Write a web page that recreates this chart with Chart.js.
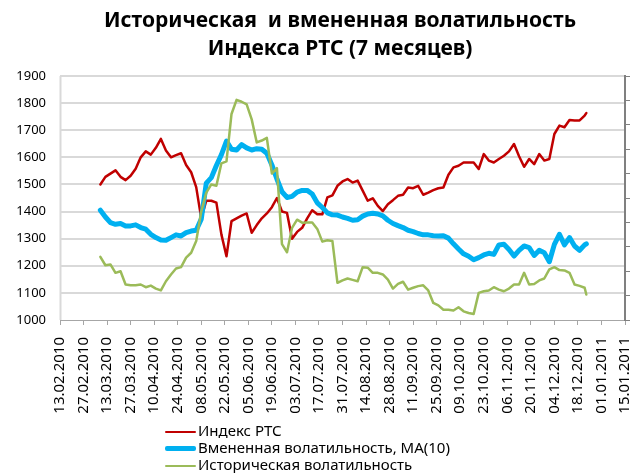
<!DOCTYPE html>
<html>
<head>
<meta charset="utf-8">
<script src="https://cdn.jsdelivr.net/npm/chart.js@4/dist/chart.umd.min.js"></script>
<style>
  body { margin: 0; background: #fff; }
  #wrap { position: relative; width: 633px; height: 473px; overflow: hidden; }
  #title { position: absolute; left: 0; top: 5px; width: 680px; text-align: center; font: bold 21px "Noto Sans", sans-serif; line-height: 28px; color: #000; white-space: pre; }
  #legend { position: absolute; left: 165px; top: 422px; font: 15px "Noto Sans", sans-serif; color: #000; }
  #legend div { height: 17px; line-height: 17px; white-space: nowrap; }
  #legend span.sw { display: inline-block; width: 31px; vertical-align: middle; margin-right: 2px; border-radius: 2px; }
</style>
</head>
<body>
<div id="wrap">
  <canvas id="chart" width="633" height="473"></canvas>
  <div id="title"></div>
  <div id="legend"></div>
</div>
<script>
// дни от 13.02.2010 (начало оси)
const days = [24, 27, 30, 33, 36, 39, 42, 45, 48, 51, 54, 57, 60, 63, 66, 69, 72, 75, 78, 81,
  84, 87, 90, 93, 96, 99, 102, 105, 108, 111, 114, 117, 120, 123, 126, 129, 132, 135, 138, 141,
  144, 147, 150, 153, 156, 159, 162, 165, 168, 171, 174, 177, 180, 183, 186, 189, 192, 195, 198, 201,
  204, 207, 210, 213, 216, 219, 222, 225, 228, 231, 234, 237, 240, 243, 246, 249, 252, 255, 258, 261,
  264, 267, 270, 273, 276, 279, 282, 285, 288, 291, 294, 297, 300, 303, 306, 309, 312, 313];

// Индекс РТС
const rts = [1500, 1528, 1540, 1552, 1528, 1516, 1532, 1558, 1600, 1622, 1610, 1635, 1668, 1625, 1600, 1608, 1615, 1572, 1545, 1490,
  1375, 1440, 1440, 1433, 1315, 1235, 1365, 1375, 1385, 1393, 1322, 1350, 1375, 1393, 1416, 1450, 1400, 1395, 1300, 1325,
  1340, 1375, 1405, 1390, 1390, 1452, 1460, 1495, 1511, 1520, 1507, 1514, 1477, 1440, 1449, 1421, 1402, 1427, 1442, 1458,
  1462, 1489, 1486, 1495, 1462, 1470, 1479, 1486, 1489, 1536, 1563, 1569, 1581, 1581, 1581, 1557, 1612, 1588, 1581, 1594,
  1606, 1622, 1649, 1604, 1565, 1594, 1575, 1612, 1588, 1594, 1686, 1717, 1711, 1738, 1736, 1736, 1754, 1763];

// Вмененная волатильность, MA(10)
const impliedVol = [1405, 1380, 1359, 1353, 1356, 1347, 1347, 1351, 1341, 1335, 1316, 1304, 1295, 1294, 1304, 1314, 1310, 1322, 1328, 1331,
  1372, 1505, 1525, 1570, 1610, 1660, 1630, 1627, 1647, 1635, 1627, 1632, 1630, 1615, 1572, 1520, 1473, 1452, 1456, 1472,
  1478, 1478, 1465, 1432, 1415, 1395, 1388, 1387, 1380, 1375, 1368, 1370, 1383, 1391, 1394, 1391, 1384, 1368, 1356, 1348,
  1341, 1331, 1326, 1319, 1314, 1314, 1311, 1310, 1311, 1302, 1281, 1262, 1244, 1235, 1222, 1230, 1240, 1246, 1242, 1277,
  1279, 1260, 1236, 1257, 1273, 1267, 1238, 1257, 1248, 1215, 1279, 1316, 1277, 1304, 1273, 1257, 1277, 1281];

// Историческая волатильность
const histVol = [1233, 1202, 1205, 1174, 1180, 1131, 1128, 1128, 1131, 1121, 1127, 1116, 1109, 1143, 1168, 1190, 1195, 1230, 1248, 1291,
  1400, 1470, 1500, 1495, 1578, 1585, 1760, 1812, 1805, 1795, 1740, 1655, 1662, 1672, 1540, 1560, 1280, 1250, 1340, 1370,
  1359, 1360, 1360, 1336, 1289, 1294, 1291, 1137, 1146, 1153, 1148, 1143, 1195, 1193, 1174, 1174, 1168, 1149, 1116, 1133,
  1141, 1112, 1119, 1125, 1128, 1109, 1063, 1054, 1038, 1038, 1035, 1047, 1032, 1026, 1022, 1100, 1106, 1109, 1121, 1112,
  1106, 1116, 1131, 1131, 1174, 1131, 1133, 1146, 1153, 1187, 1195, 1184, 1183, 1174, 1131, 1126, 1119, 1094];

const seriesNames = ['Индекс РТС', 'Вмененная волатильность, MA(10)', 'Историческая волатильность'];
const titleLines = ['Историческая  и вмененная волатильность', 'Индекса РТС (7 месяцев)'];

const startDate = Date.UTC(2010, 1, 13);
function dayLabel(v) {
    const d = new Date(startDate + v * 86400000);
    const p = (n) => String(n).padStart(2, '0');
    return p(d.getUTCDate()) + '.' + p(d.getUTCMonth() + 1) + '.' + d.getUTCFullYear();
}

function pts(values) {
    return values.map((v, i) => ({x: days[i], y: v}));
}

const colors = ['#C00000', '#00B0F0', '#9BBB59'];
const widths = [2.5, 5, 2.5];
const series = [rts, impliedVol, histVol];

const datasets = series.map((s, i) => ({
    label: seriesNames[i],
    data: pts(s),
    borderColor: colors[i],
    backgroundColor: colors[i],
    borderWidth: widths[i],
    pointRadius: 0,
    tension: 0,
    fill: false,
    borderJoinStyle: 'round',
    borderCapStyle: 'round',
    order: 3 - i  // как в Excel: последняя серия сверху
}));

const font = '"Noto Sans", sans-serif';

// сетка по делениям оси y рисуется в самом конце, но "под" уже нарисованным
const hGrid = {
    id: 'hGrid',
    afterDraw(chart) {
        const {ctx, chartArea, scales: {y}} = chart;
        ctx.save();
        ctx.globalCompositeOperation = 'destination-over';
        ctx.strokeStyle = '#d9d9d9';
        ctx.lineWidth = 2;
        ctx.beginPath();
        y.ticks.forEach((t) => {
            if (t.value === y.min) return;
            const py = Math.round(y.getPixelForValue(t.value));
            ctx.moveTo(chartArea.left, py);
            ctx.lineTo(chartArea.right, py);
        });
        // левая ось
        ctx.moveTo(Math.round(chartArea.left) + 0.5, chartArea.top);
        ctx.lineTo(Math.round(chartArea.left) + 0.5, chartArea.bottom);
        ctx.stroke();
        ctx.restore();
    }
};

new Chart(document.getElementById('chart'), {
    type: 'line',
    data: {datasets: datasets},
    plugins: [hGrid],
    options: {
        responsive: false,
        animation: false,
        layout: {padding: {left: 0, right: 0, top: 76, bottom: 53}},
        plugins: {
            legend: {display: false},
            tooltip: {enabled: false},
            title: {display: false}
        },
        scales: {
            x: {
                type: 'linear',
                min: 0,
                max: 336,
                afterFit: (s) => { s.height = 100; s.paddingLeft = 0; s.paddingRight = 0; },
                ticks: {
                    stepSize: 14,
                    autoSkip: false,
                    maxRotation: 90,
                    minRotation: 90,
                    padding: 12,
                    color: '#000',
                    font: {family: font, size: 15},
                    callback: (v) => dayLabel(v)
                },
                grid: {drawOnChartArea: false, color: '#a6a6a6', tickLength: 5},
                border: {color: '#a6a6a6', width: 1}
            },
            y: {
                type: 'linear',
                position: 'left',
                min: 1000,
                max: 1900,
                afterFit: (s) => { s.width = 60; },
                ticks: {stepSize: 100, padding: 14, color: '#000', font: {family: font, size: 13},
                    callback: (v) => String(v)},
                grid: {drawOnChartArea: false, drawTicks: false},
                border: {display: false}
            },
            y2: {
                type: 'linear',
                position: 'right',
                min: 0,
                max: 10,
                afterFit: (s) => { s.width = 8; },
                ticks: {stepSize: 1, display: false},
                grid: {drawOnChartArea: false, color: '#808080', tickLength: 5},
                border: {color: '#808080', width: 2}
            }
        }
    }
});

// заголовок и легенда столбиком, как в оригинале
document.getElementById('title').textContent = titleLines.join('\n');

const legend = document.getElementById('legend');
seriesNames.forEach((name, i) => {
    const row = document.createElement('div');
    const sw = document.createElement('span');
    sw.className = 'sw';
    sw.style.height = widths[i] + 'px';
    sw.style.background = colors[i];
    row.appendChild(sw);
    row.appendChild(document.createTextNode(name));
    legend.appendChild(row);
});
</script>
</body>
</html>
